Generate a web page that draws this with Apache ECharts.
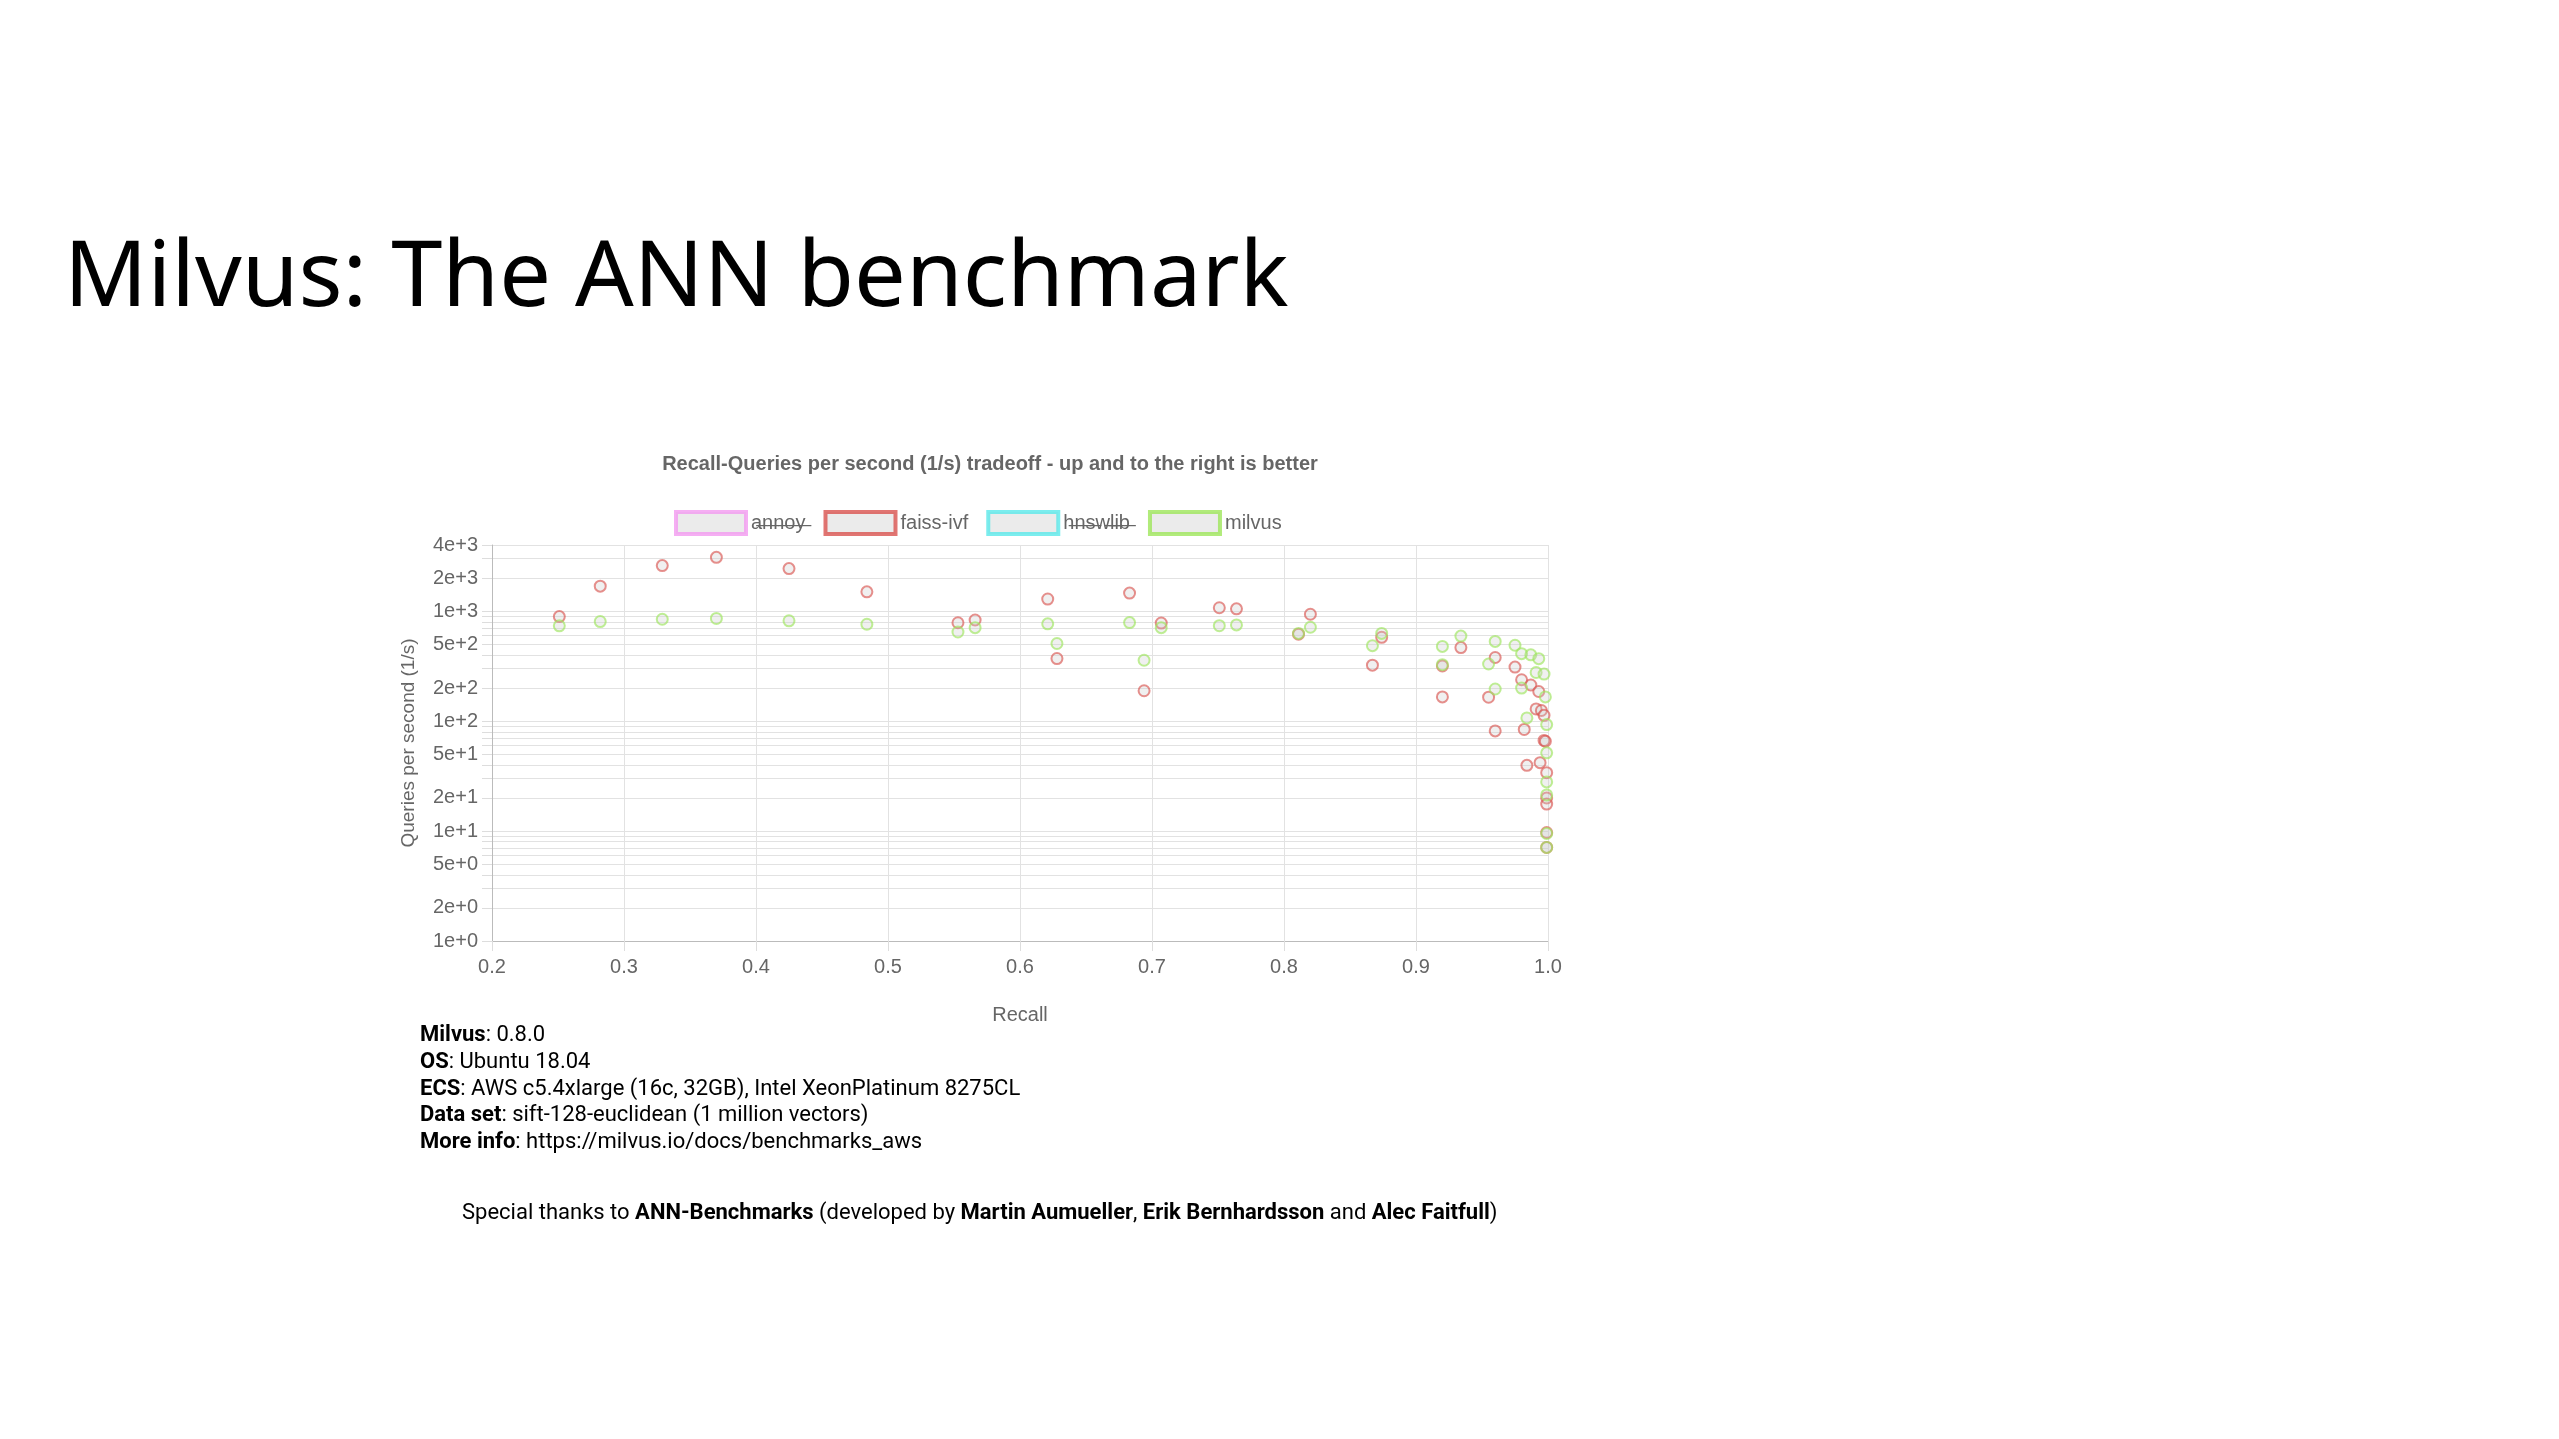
<!DOCTYPE html>
<html>
<head>
<meta charset="utf-8">
<script src="https://cdn.jsdelivr.net/npm/echarts@6/dist/echarts.min.js"></script>
<style>html,body{margin:0;padding:0;background:#fff}</style>
</head>
<body>
<div id="main" style="width:2559px;height:1439px;"></div>
<script>
var faissRecall = [0.251,0.282,0.329,0.370,0.425,0.484,0.553,0.566,0.621,0.628,
  0.683,0.694,0.707,0.751,0.764,0.811,0.820,0.867,0.874,0.920,0.920,0.934,0.955,0.960,0.960,
  0.975,0.980,0.987,0.993,0.991,0.995,0.997,0.982,0.984,0.994,0.997,0.998,0.999,0.999,0.999,0.999,0.999];
var faissQps = [893,1690,2600,3090,2440,1500,785,831,1290,371,
  1460,189,780,1075,1050,618,938,323,579,318,166,467,165,379,81.5,
  310,238,213,186,129,125,113,84,39.6,41.9,66.7,65.6,34,20,17.6,9.7,7.1];
var milvusRecall = [0.251,0.282,0.329,0.370,0.425,0.484,0.553,0.566,0.621,0.628,
  0.683,0.694,0.707,0.751,0.764,0.811,0.820,0.867,0.874,0.920,0.920,0.934,0.955,0.960,0.960,
  0.975,0.980,0.987,0.993,0.991,0.997,0.980,0.998,0.984,0.999,0.999,0.999,0.999,0.999,0.999];
var milvusQps = [736,805,845,859,818,761,647,708,767,508,
  787,358,708,738,750,628,714,486,628,478,326,594,331,531,196,
  490,411,401,370,277,268,200,166,107,93,51.5,28,21.3,9.5,7.1];
var yLabels = [1,2,5,10,20,50,100,200,500,1000,2000,4000];
var yGrid = [1,2,3,4,5,6,7,8,9,10,20,30,40,50,60,70,80,90,100,200,300,400,500,600,700,800,900,1000,2000,3000,4000];
var hidden = {'annoy':true,'hnswlib':true};

function pairs(xs, ys) {
  var out = [];
  for (var i = 0; i < xs.length; i++) out.push([xs[i], ys[i]]);
  return out;
}
function strike(s) {
  return s.split('').map(function (c) { return c + '\u0336'; }).join('');
}

var chart = echarts.init(document.getElementById('main'));
var txt = '#666';
var boldTxt = {fontWeight:'bold', fontFamily:'Roboto', fontSize:22, fill:'#000'};
var normTxt = {fontFamily:'Roboto', fontSize:22, fill:'#000'};

function infoLine(label, value, top) {
  return {type:'text', left:420, top:top, style:{
    rich:{b:boldTxt, n:normTxt}, text:'{b|' + label + '}{n|: ' + value + '}'}};
}

option = {
  animation: false,
  textStyle: {fontFamily: 'Liberation Sans'},
  title: {
    text: 'Recall-Queries per second (1/s) tradeoff - up and to the right is better',
    left: 985, top: 449, textAlign: 'center',
    textStyle: {fontSize: 20, fontWeight: 'bold', color: txt, fontFamily: 'Liberation Sans'}
  },
  legend: {
    top: 505, left: 669, itemWidth: 70, itemHeight: 22, itemGap: 18,
    icon: 'rect',
    textStyle: {fontSize: 20, color: txt},
    formatter: function (n) { return hidden[n] ? strike(n) : n; },
    data: [
      {name:'annoy', itemStyle:{color:'#e6e6e6', borderColor:'#f29af0', borderWidth:4}},
      {name:'faiss-ivf', itemStyle:{color:'#e6e6e6', borderColor:'#d9534f', borderWidth:4}},
      {name:'hnswlib', itemStyle:{color:'#e6e6e6', borderColor:'#5ae8ea', borderWidth:4}},
      {name:'milvus', itemStyle:{color:'#e6e6e6', borderColor:'#9de65a', borderWidth:4}}
    ]
  },
  grid: {left: 492, right: 1011, top: 545, height: 396},
  xAxis: {
    type: 'value', min: 0.2, max: 1.0, interval: 0.1,
    name: 'Recall', nameLocation: 'middle', nameGap: 64,
    nameTextStyle: {fontSize: 20, color: txt},
    axisLine: {show: true, lineStyle: {color: '#bbb'}},
    axisTick: {show: true, length: 10, lineStyle: {color: '#ddd'}},
    axisLabel: {fontSize: 20, color: txt, margin: 16, formatter: function (v) { return v.toFixed(1); }},
    splitLine: {show: true, lineStyle: {color: '#e2e2e2'}}
  },
  yAxis: {
    type: 'log', logBase: 10, min: 1, max: 4000,
    name: 'Queries per second (1/s)', nameLocation: 'middle', nameGap: 74,
    nameTextStyle: {fontSize: 19, color: txt},
    axisLine: {show: true, lineStyle: {color: '#bbb'}},
    axisTick: {show: true, length: 10, customValues: yGrid, lineStyle: {color: '#ddd'}},
    axisLabel: {fontSize: 20, color: txt, margin: 14, customValues: yLabels,
      formatter: function (v) { return Number(v).toExponential(0); }},
    splitLine: {show: true, lineStyle: {color: '#e2e2e2'}}
  },
  series: [
    {name:'annoy', type:'scatter', data:[], itemStyle:{color:'#f29af0'}},
    {name:'faiss-ivf', type:'scatter', symbolSize: 11, data: pairs(faissRecall, faissQps),
      itemStyle:{color:'rgba(200,200,200,0.35)', borderColor:'rgba(217,83,79,0.8)', borderWidth:2}},
    {name:'hnswlib', type:'scatter', data:[], itemStyle:{color:'#5ae8ea'}},
    {name:'milvus', type:'scatter', symbolSize: 11, data: pairs(milvusRecall, milvusQps),
      itemStyle:{color:'rgba(200,200,200,0.35)', borderColor:'rgba(157,230,90,0.8)', borderWidth:2}}
  ],
  graphic: [
    {type:'text', left:64, top:234, style:{text:'Milvus: The ANN benchmark', fontFamily:'Noto Sans', fontSize:92, fill:'#000'}},
    infoLine('Milvus', '0.8.0', 1024),
    infoLine('OS', 'Ubuntu 18.04', 1051),
    infoLine('ECS', 'AWS c5.4xlarge (16c, 32GB), Intel XeonPlatinum 8275CL', 1078),
    infoLine('Data set', 'sift-128-euclidean (1 million vectors)', 1104),
    infoLine('More info', 'https://milvus.io/docs/benchmarks_aws', 1131),
    {type:'text', left:462, top:1202, style:{rich:{b:boldTxt, n:normTxt},
      text:'{n|Special thanks to }{b|ANN-Benchmarks}{n| (developed by }{b|Martin Aumueller}{n|, }{b|Erik Bernhardsson}{n| and }{b|Alec Faitfull}{n|)}'}}
  ]
};
chart.setOption(option);
</script>
</body>
</html>
